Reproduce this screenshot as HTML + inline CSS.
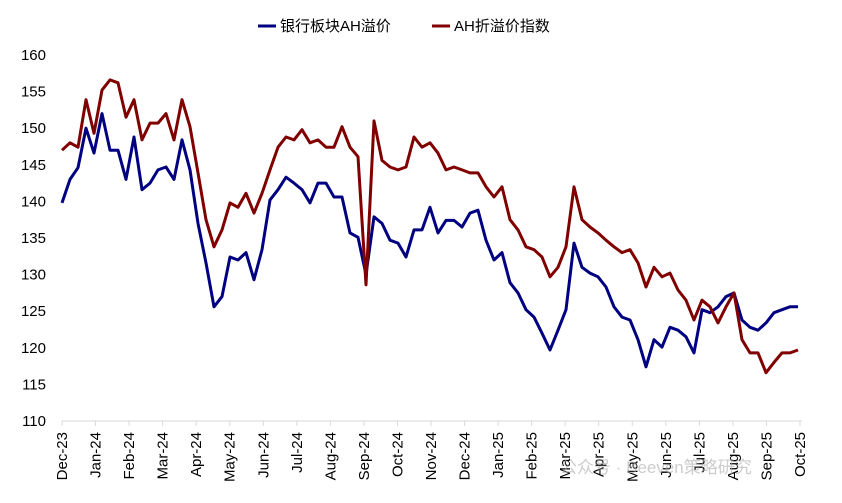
<!DOCTYPE html>
<html><head><meta charset="utf-8"><style>
body{margin:0;background:#fff;}
svg{display:block;font-family:"Liberation Sans","Noto Sans CJK SC",sans-serif;}
</style></head><body>
<svg id="chart" width="842" height="503"></svg>
<script>
const months=["Dec-23","Jan-24","Feb-24","Mar-24","Apr-24","May-24","Jun-24","Jul-24","Aug-24","Sep-24","Oct-24","Nov-24","Dec-24","Jan-25","Feb-25","Mar-25","Apr-25","May-25","Jun-25","Jul-25","Aug-25","Sep-25","Oct-25"];
const yTicks=[110,115,120,125,130,135,140,145,150,155,160];
const bankAH=[139.8,143,144.6,150,146.6,152,147,147,143,148.8,141.6,142.5,144.3,144.7,143,148.4,144.3,137,131.6,125.6,127,132.4,132,133,129.3,133.4,140.2,141.6,143.3,142.5,141.6,139.8,142.5,142.5,140.6,140.6,135.7,135.1,130,137.9,137,134.7,134.3,132.4,136.1,136.1,139.2,135.7,137.4,137.4,136.5,138.4,138.8,134.7,132,133,128.9,127.5,125.2,124.2,122,119.7,122.4,125.2,134.3,131,130.2,129.7,128.3,125.6,124.2,123.8,121.1,117.4,121.1,120.1,122.8,122.4,121.5,119.3,125.2,124.8,125.6,127,127.5,123.8,122.8,122.4,123.4,124.8,125.2,125.6,125.6];
const ahIndex=[147,148,147.4,153.9,149.3,155.2,156.6,156.2,151.5,153.9,148.4,150.7,150.7,152,148.4,153.9,150.2,143.9,137.5,133.8,136.1,139.8,139.2,141.1,138.4,141.1,144.3,147.4,148.8,148.4,149.8,148,148.4,147.4,147.4,150.2,147.4,146.1,128.6,151,145.6,144.7,144.3,144.7,148.8,147.4,148,146.6,144.3,144.7,144.3,143.9,143.9,142,140.6,142,137.5,136.1,133.8,133.4,132.4,129.7,131,133.8,142,137.5,136.5,135.7,134.7,133.8,133,133.4,131.6,128.3,131,129.7,130.2,127.9,126.5,123.8,126.5,125.6,123.4,125.6,127.5,121.1,119.3,119.3,116.6,118,119.3,119.3,119.7];

const NS="http://www.w3.org/2000/svg";
const svg=document.getElementById('chart');
const X0=62,X1=800,Y0=421,Y1=55;
const yS=v=>Y0-(v-110)/(160-110)*(Y0-Y1);
const mX=i=>X0+i*(X1-X0)/(months.length-1);
const dX=i=>X0+i*(798-X0)/(bankAH.length-1);
function mk(t,a){const e=document.createElementNS(NS,t);for(const k in a)e.setAttribute(k,a[k]);svg.appendChild(e);return e;}

yTicks.forEach(v=>{
  const t=mk('text',{x:46,y:yS(v)+5,'text-anchor':'end','font-size':15,fill:'#000'});
  t.textContent=v;
  
  
});
const ax=mk('line',{x1:X0,y1:Y0,x2:X1+2,y2:Y0,stroke:'#d9d9d9','stroke-width':1});


months.forEach((m,i)=>{
  const x=mX(i);
  const tk=mk('line',{x1:x,y1:Y0,x2:x,y2:Y0+5,stroke:'#d9d9d9','stroke-width':1});
  
  
  const t=mk('text',{x:0,y:0,'text-anchor':'end','font-size':15,fill:'#000',transform:`translate(${x+5},${Y0+11}) rotate(-90)`});
  t.textContent=m;
  
  
});
function line(arr,color,name){
  const d=arr.map((v,i)=>(i?'L':'M')+dX(i).toFixed(1)+','+yS(v).toFixed(1)).join('');
  const p=mk('path',{d:d,fill:'none',stroke:color,'stroke-width':3,'stroke-linejoin':'round'});
  
  
}
line(bankAH,'#000080','bank-ah-premium-line');
line(ahIndex,'#800000','ah-index-line');

const l1=mk('line',{x1:258,y1:26,x2:276,y2:26,stroke:'#000080','stroke-width':3});


const t1=mk('text',{x:280,y:31,'font-size':15,fill:'#000'});
t1.textContent='银行板块AH溢价';


const l2=mk('line',{x1:432,y1:26,x2:450,y2:26,stroke:'#800000','stroke-width':3});


const t2=mk('text',{x:454,y:31,'font-size':15,fill:'#000'});
t2.textContent='AH折溢价指数';


const w=mk('text',{x:560,y:473,'font-size':17,fill:'#aaa','fill-opacity':0.6});
w.textContent='公众号 · Beeven策略研究';


</script>
</body></html>
